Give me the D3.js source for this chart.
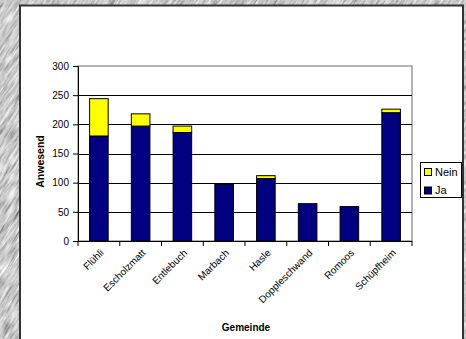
<!DOCTYPE html>
<html>
<head>
<meta charset="utf-8">
<script src="https://cdn.jsdelivr.net/npm/d3@7"></script>
<style>
  html, body { margin: 0; padding: 0; background: #9a9a9a; }
  svg { display: block; }
  text { font-family: "Liberation Sans", Arial, sans-serif; fill: #000; }
</style>
</head>
<body>
<svg id="chart" width="466" height="339"></svg>
<script>
// Anwesenheit je Gemeinde (gestapelt: Ja + Nein)
const gemeinden = ["Flühli", "Escholzmatt", "Entlebuch", "Marbach", "Hasle", "Doppleschwand", "Romoos", "Schüpfheim"];
const ja   = [180, 197, 186, 97, 107, 64, 59, 220];
const nein = [64, 21, 11, 0, 5, 0, 0, 6];
const yTicks = [0, 50, 100, 150, 200, 250, 300];
const serien = ["Ja", "Nein"];
const farben = { Ja: "#000080", Nein: "#FFFF00" };

const W = 466, H = 339;
const svg = d3.select("#chart");
const defs = svg.append("defs");

// Marmorierter grauer Hintergrund
const f = defs.append("filter").attr("id", "marmor")
  .attr("x", 0).attr("y", 0).attr("width", 1).attr("height", 1);
f.append("feTurbulence").attr("type", "fractalNoise")
  .attr("baseFrequency", "0.45 0.06").attr("numOctaves", 3).attr("seed", 7);
f.append("feColorMatrix").attr("type", "matrix")
  .attr("values", "0.33 0.33 0.33 0 0  0.33 0.33 0.33 0 0  0.33 0.33 0.33 0 0  0 0 0 0 1");
f.append("feComponentTransfer").call(ct => {
  ["feFuncR", "feFuncG", "feFuncB"].forEach(fn =>
    ct.append(fn).attr("type", "linear").attr("slope", 1.9).attr("intercept", -0.35));
});
svg.append("rect")
  .attr("x", -300).attr("y", -300).attr("width", 1066).attr("height", 939)
  .attr("transform", `rotate(32 ${W / 2} ${H / 2})`)
  .attr("filter", "url(#marmor)");

// Diagrammfläche
svg.append("rect")
  .attr("x", 20).attr("y", 5.5).attr("width", 443).attr("height", 345)
  .attr("fill", "#fff").attr("stroke", "#333").attr("stroke-width", 2);

const plot = { left: 78, right: 412, top: 66, bottom: 241 };

const x = d3.scaleBand().domain(gemeinden)
  .range([plot.left, plot.right]).paddingInner(0.555).paddingOuter(0.2775);
const y = d3.scaleLinear().domain([0, 300]).range([plot.bottom, plot.top]);

const g = svg.append("g");

// Rahmen der Zeichenfläche
g.append("rect")
  .attr("x", plot.left).attr("y", plot.top)
  .attr("width", plot.right - plot.left).attr("height", plot.bottom - plot.top)
  .attr("fill", "none").attr("stroke", "#9a9a9a").attr("stroke-width", 1.5);

// Gitterlinien
g.selectAll("line.grid").data(yTicks.filter(v => v > 0 && v < 300)).join("line")
  .attr("class", "grid")
  .attr("x1", plot.left).attr("x2", plot.right)
  .attr("y1", d => Math.round(y(d)) + 0.5).attr("y2", d => Math.round(y(d)) + 0.5)
  .attr("stroke", "#000").attr("stroke-width", 1);

// Gestapelte Balken
const tabelle = gemeinden.map((name, i) => ({ name, Ja: ja[i], Nein: nein[i] }));
const stapel = d3.stack().keys(serien)(tabelle);
g.selectAll("g.serie").data(stapel).join("g")
  .attr("class", "serie")
  .attr("fill", d => farben[d.key])
  .selectAll("rect").data(d => d.filter(s => s[1] - s[0] > 0)).join("rect")
  .attr("x", d => x(d.data.name))
  .attr("width", x.bandwidth())
  .attr("y", d => y(d[1]))
  .attr("height", d => y(d[0]) - y(d[1]))
  .attr("stroke", "#000").attr("stroke-width", 1);

// Y-Achse
const yAxis = g.append("g")
  .attr("transform", `translate(${plot.left},0)`)
  .call(d3.axisLeft(y).tickValues(yTicks).tickSize(5).tickPadding(4));
yAxis.select(".domain").attr("stroke", "#000");
yAxis.selectAll("text").style("font-size", "10px")
  .style("font-family", "'Liberation Sans', Arial, sans-serif");

// X-Achse mit Teilstrichen zwischen den Kategorien
const step = x.step();
const grenzen = d3.range(gemeinden.length + 1).map(i => plot.left + i * step);
g.append("line")
  .attr("x1", plot.left).attr("x2", plot.right)
  .attr("y1", plot.bottom + 0.5).attr("y2", plot.bottom + 0.5)
  .attr("stroke", "#000");
g.selectAll("line.xtick").data(grenzen).join("line")
  .attr("class", "xtick")
  .attr("x1", d => d).attr("x2", d => d)
  .attr("y1", plot.bottom).attr("y2", plot.bottom + 5)
  .attr("stroke", "#000");

// Schräge Kategorienbeschriftung
g.selectAll("text.xlab").data(gemeinden).join("text")
  .attr("class", "xlab")
  .attr("transform", d => `translate(${x(d) + x.bandwidth() / 2 + 3},${plot.bottom + 10}) rotate(-45)`)
  .attr("text-anchor", "end")
  .attr("dy", "0.35em")
  .style("font-size", "10px")
  .text(d => d);

// Achsentitel
svg.append("text")
  .attr("transform", `translate(44,${(plot.top + plot.bottom) / 2 + 8}) rotate(-90)`)
  .attr("text-anchor", "middle")
  .style("font-size", "10.5px").style("font-weight", "bold")
  .text("Anwesend");
svg.append("text")
  .attr("x", 246).attr("y", 331)
  .attr("text-anchor", "middle")
  .style("font-size", "10px").style("font-weight", "bold")
  .text("Gemeinde");

// Legende
const leg = svg.append("g").attr("transform", "translate(420.5,162.5)");
leg.append("rect").attr("width", 41).attr("height", 35)
  .attr("fill", "#fff").attr("stroke", "#000");
const eintraege = ["Nein", "Ja"];
eintraege.forEach((k, i) => {
  const yy = 9.5 + i * 18.5;
  leg.append("rect").attr("x", 4).attr("y", yy - 3.5).attr("width", 7).attr("height", 7)
    .attr("fill", farben[k]).attr("stroke", "#000");
  leg.append("text").attr("x", 14.5).attr("y", yy).attr("dy", "0.36em")
    .style("font-size", "11px").text(k);
});
</script>
</body>
</html>
